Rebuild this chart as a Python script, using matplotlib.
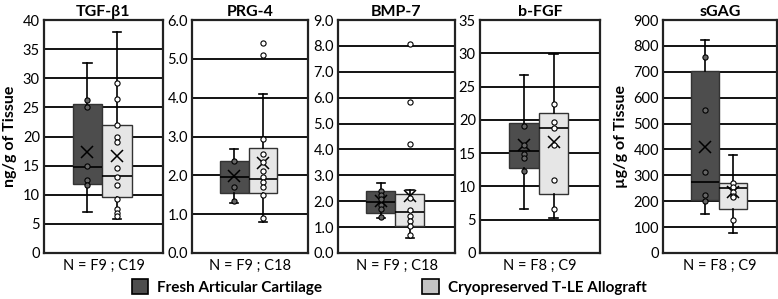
import matplotlib
matplotlib.use("Agg")
import matplotlib.pyplot as plt
from matplotlib.patches import Patch

plt.rcParams['font.family'] = ['Lato', 'DejaVu Sans']

titles = ["TGF-β1", "PRG-4", "BMP-7", "b-FGF", "sGAG"]
n_labels = ["N = F9 ; C19", "N = F9 ; C18", "N = F9 ; C18", "N = F8 ; C9", "N = F8 ; C9"]
ymax = [40, 6.0, 9.0, 35, 900]
ystep = [5, 1.0, 1.0, 5, 100]
tick_fmt = ["{:.0f}", "{:.1f}", "{:.1f}", "{:.0f}", "{:.0f}"]

# stats: whisker low, Q1, median, Q3, whisker high, mean
fresh_stats = [
    [7.0, 11.8, 14.7, 25.6, 32.6, 17.4],
    [1.29, 1.54, 1.95, 2.38, 2.67, 1.97],
    [1.35, 1.54, 1.98, 2.39, 2.69, 1.99],
    [6.65, 12.75, 15.25, 19.5, 26.7, 16.15],
    [150, 204, 274, 704, 823, 408],
]
cryo_stats = [
    [5.8, 9.6, 13.3, 21.9, 37.9, 16.6],
    [0.79, 1.54, 1.90, 2.71, 4.10, 2.31],
    [0.58, 1.03, 1.59, 2.28, 2.44, 2.19],
    [5.2, 8.85, 18.85, 21.1, 29.95, 16.6],
    [77, 170, 251, 270, 379, 234],
]
fresh_points = [
    [26.2, 25.1, 14.9, 12.5, 11.7],
    [2.36, 1.71, 1.35],
    [2.40, 2.25, 2.10, 1.85, 1.70, 1.40],
    [19.05, 16.2, 14.85, 14.2, 12.25],
    [756, 553, 311, 225, 202],
]
cryo_points = [
    [29.1, 26.4, 21.9, 19.9, 19.1, 14.6, 13.1, 11.7, 9.3, 7.6, 6.9, 6.3],
    [5.42, 5.10, 2.93, 2.55, 2.35, 2.10, 1.95, 1.83, 1.71, 1.50, 0.91],
    [8.06, 5.85, 4.22, 2.12, 1.65, 1.44, 1.25, 1.03, 0.71],
    [22.45, 19.75, 18.85, 16.2, 10.95, 6.65],
    [270, 255, 234, 219, 215, 127],
]

dark = "#4d4d4d"
light = "#e6e6e6"
legend_light = "#c4c4c4"

fig = plt.figure(figsize=(7.78, 2.99), dpi=100)
W, H = 778, 299
panels_px = [(44, 163), (192, 308), (338, 455), (480, 600), (663, 777)]
top_px, bot_px = 20, 253

def mk(st):
    return dict(whislo=st[0], q1=st[1], med=st[2], q3=st[3], whishi=st[4], mean=st[5], fliers=[])

for i, (l, r) in enumerate(panels_px):
    ax = fig.add_axes([l / W, 1 - bot_px / H, (r - l) / W, (bot_px - top_px) / H])
    ax.set_xlim(0, 1)
    ax.set_ylim(0, ymax[i])
    ticks = [ystep[i] * k for k in range(int(round(ymax[i] / ystep[i])) + 1)]
    ax.set_yticks(ticks)
    ax.set_yticklabels([tick_fmt[i].format(t) for t in ticks], fontsize=10.5)
    ax.tick_params(axis='y', length=0, pad=3)
    ax.set_xticks([])
    for t in ticks[1:-1]:
        ax.axhline(t, color="black", lw=1.3, zorder=0)
    for s in ax.spines.values():
        s.set_color("#222222")
        s.set_linewidth(1.6)
    pos = [0.365, 0.613]
    for j, (st, col) in enumerate([(fresh_stats[i], dark), (cryo_stats[i], light)]):
        ax.bxp([mk(st)], positions=[pos[j]], widths=0.245, capwidths=0.07,
               showmeans=False, showfliers=False, patch_artist=True,
               boxprops=dict(facecolor=col, edgecolor="#333333", lw=1.0),
               medianprops=dict(color="black", lw=1.2),
               whiskerprops=dict(color="black", lw=1.2),
               capprops=dict(color="black", lw=1.2), manage_ticks=False)
        ax.plot([pos[j]], [st[5]], marker='x', color="black", ms=8, mew=1.1, zorder=5)
    ax.scatter([pos[0]] * len(fresh_points[i]), fresh_points[i], s=14, facecolor="#666666",
               edgecolor="black", lw=0.8, zorder=6)
    ax.scatter([pos[1]] * len(cryo_points[i]), cryo_points[i], s=14, facecolor="white",
               edgecolor="black", lw=0.8, zorder=6)
    ax.set_title(titles[i], fontsize=11.5, fontweight="bold", pad=3)
    ax.set_xlabel(n_labels[i], fontsize=10.5, labelpad=4)
    if i == 0:
        ax.set_ylabel("ng/g of Tissue", fontsize=11.5, fontweight="bold", labelpad=4)
    if i == 4:
        ax.set_ylabel("µg/g of Tissue", fontsize=11.5, fontweight="bold", labelpad=4)

handles = [Patch(facecolor=dark, edgecolor="black", lw=1.2, label="Fresh Articular Cartilage"),
           Patch(facecolor=legend_light, edgecolor="black", lw=1.2, label="Cryopreserved T-LE Allograft")]
fig.legend(handles=handles, loc="center", bbox_to_anchor=(0.5, 0.04), ncol=2, frameon=False,
           prop=dict(size=11, weight="bold"), handlelength=1.1, handleheight=1.1,
           columnspacing=6.5, handletextpad=0.6)

fig.savefig("out.png", dpi=100)
